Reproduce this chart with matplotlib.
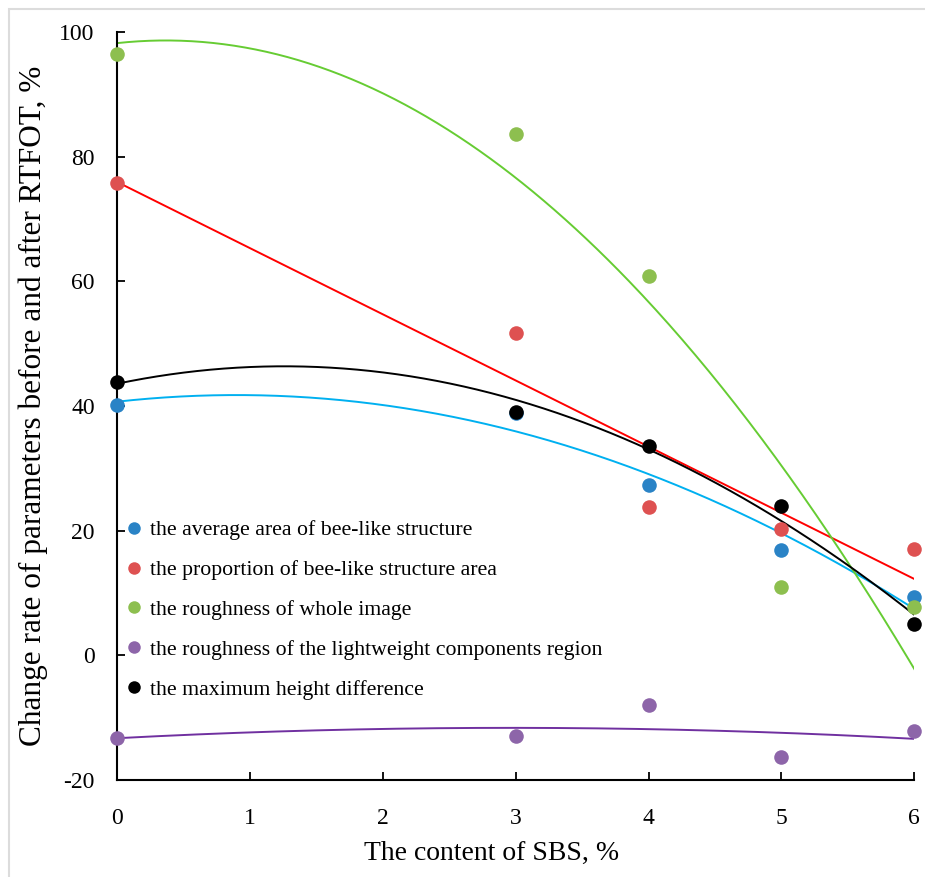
import numpy as np
import matplotlib
matplotlib.use("Agg")
import matplotlib.pyplot as plt
from matplotlib.lines import Line2D
from matplotlib.patches import Rectangle

plt.rcParams['font.family'] = ['Liberation Serif', 'DejaVu Serif']
plt.rcParams['axes.unicode_minus'] = False

x = [0, 3, 4, 5, 6]
avg_area = [40.2, 38.9, 27.4, 16.9, 9.3]
prop_area = [75.8, 51.7, 23.8, 20.2, 17.1]
rough_whole = [96.5, 83.7, 60.9, 10.9, 7.7]
rough_light = [-13.3, -12.9, -8.0, -16.3, -12.1]
max_height = [43.9, 39.1, 33.6, 24.0, 5.0]

labels = ["the average area of bee-like structure",
          "the proportion of bee-like structure area",
          "the roughness of whole image",
          "the roughness of the lightweight components region",
          "the maximum height difference"]
series = [avg_area, prop_area, rough_whole, rough_light, max_height]
point_colors = ["#2a83c6", "#de5151", "#8dbf4f", "#8d65a9", "#000000"]
line_colors = ["#00b0f0", "#ff0000", "#66cc33", "#7030a0", "#000000"]
fit_degree = [2, 1, 2, 2, 2]

fig = plt.figure(figsize=(9.25, 8.77), dpi=100)
ax = fig.add_axes([0.1265, 0.1106, 0.862, 0.853])
fig.patches.append(Rectangle((9 / 925, -0.5), 2.0, 0.5 + 1 - 9 / 877, transform=fig.transFigure,
                             fill=False, edgecolor="#dcdcdc", lw=1.5))

xs = np.linspace(0, 6, 300)
for ys, pc, lc, deg in zip(series, point_colors, line_colors, fit_degree):
    coef = np.polyfit(x, ys, deg)
    ax.plot(xs, np.polyval(coef, xs), color=lc, lw=1.4, zorder=2)
for ys, pc in zip(series, point_colors):
    ax.scatter(x, ys, s=110, color=pc, zorder=3, clip_on=False, linewidths=0)

ax.set_xlim(0, 6)
ax.set_ylim(-20, 100)
ax.set_xticks(range(0, 7))
ax.set_yticks(range(-20, 101, 20))
ax.spines['top'].set_visible(False)
ax.spines['right'].set_visible(False)
ax.spines['left'].set_linewidth(1.5)
ax.spines['bottom'].set_linewidth(1.5)
ax.tick_params(direction='in', length=6, width=1.3, labelsize=17)
ax.tick_params(axis='y', pad=16)
ax.tick_params(axis='x', pad=20)
ax.set_xlabel("The content of SBS, %", fontsize=20)
ax.xaxis.set_label_coords(0.47, -0.082)
ax.set_ylabel("Change rate of parameters before and after RTFOT, %", fontsize=22.5, labelpad=8)

handles = [Line2D([0], [0], marker='o', linestyle='none', markersize=9,
                  markerfacecolor=c, markeredgewidth=0) for c in point_colors]
ax.legend(handles, labels, loc='upper left', bbox_to_anchor=(-0.011, 0.365),
          frameon=False, fontsize=15.7, handletextpad=0.12, labelspacing=0.9,
          handlelength=1.2, borderaxespad=0.2)

fig.savefig("out.png", dpi=100)
